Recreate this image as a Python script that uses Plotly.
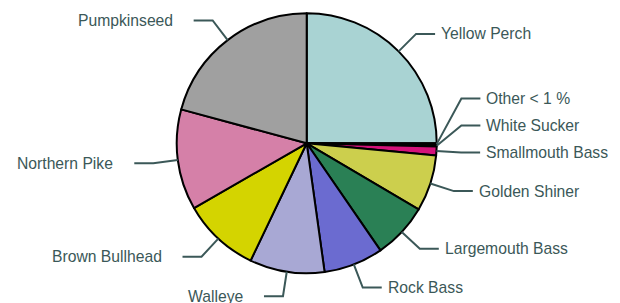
import math
import plotly.graph_objects as go

labels = ["Yellow Perch", "Other < 1 %", "White Sucker", "Smallmouth Bass",
          "Golden Shiner", "Largemouth Bass", "Rock Bass", "Walleye",
          "Brown Bullhead", "Northern Pike", "Pumpkinseed"]
values = [25.0, 0.2, 0.2, 1.1, 7.0, 6.9, 7.4, 9.3, 9.6, 12.5, 20.8]
colors = ["#a9d3d3", "#222222", "#333333", "#d4127a", "#cccf4d", "#2a8055",
          "#6b6bd0", "#a8a8d4", "#d4d400", "#d580a8", "#a0a0a0"]

W, H = 620, 303
OFF = 8  # page body margin offset of the plot div
CX, CY, R = 306.7, 143.3, 130.0
TEXT_COLOR = "#3b5858"
ELBOW_R = 1.19
HSEG = 19
GAP_R, GAP_L = 4, 19
MIN_SPACING = 27

def px(x):
    return (x - OFF) / W

def py(y):
    return 1 - (y - OFF) / H

fig = go.Figure(go.Pie(
    labels=labels, values=values, sort=False, direction="clockwise", rotation=0,
    marker=dict(colors=colors, line=dict(color="#000000", width=2)),
    textinfo="none", hoverinfo="label+percent",
    domain=dict(x=[px(CX - R), px(CX + R)], y=[py(CY + R), py(CY - R)]),
))

total = sum(values)
items = []
cum = 0.0
for lab, v in zip(labels, values):
    mid = (cum + v / 2) / total * 2 * math.pi
    cum += v
    s, c = math.sin(mid), math.cos(mid)
    sx, sy = CX + R * s, CY - R * c
    ex, ey = CX + ELBOW_R * R * s, CY - ELBOW_R * R * c
    items.append(dict(label=lab, sx=sx, sy=sy, ex=ex, ey=ey, right=s >= 0))

# resolve label collisions per side (push upward)
for side in (True, False):
    grp = sorted([it for it in items if it["right"] == side], key=lambda d: -d["ey"])
    for i in range(1, len(grp)):
        if grp[i - 1]["ey"] - grp[i]["ey"] < MIN_SPACING:
            grp[i]["ey"] = grp[i - 1]["ey"] - MIN_SPACING

shapes, annotations = [], []
for it in items:
    d = 1 if it["right"] else -1
    hx = it["ex"] + d * HSEG
    path = "M {} {} L {} {} L {} {}".format(
        px(it["sx"]), py(it["sy"]), px(it["ex"]), py(it["ey"]), px(hx), py(it["ey"]))
    shapes.append(dict(type="path", path=path, xref="paper", yref="paper",
                       line=dict(color=TEXT_COLOR, width=2)))
    tx = hx + (GAP_R if it["right"] else -GAP_L)
    annotations.append(dict(
        x=px(tx), y=py(it["ey"]), xref="paper", yref="paper", text=it["label"],
        showarrow=False, xanchor="left" if it["right"] else "right", yanchor="middle",
        font=dict(family="Liberation Sans, Arial, sans-serif", size=15.7, color=TEXT_COLOR)))

fig.update_layout(
    width=W, height=H, margin=dict(l=0, r=0, t=0, b=0),
    paper_bgcolor="white", plot_bgcolor="white", showlegend=False,
    shapes=shapes, annotations=annotations,
)
fig.write_html("out.html")
